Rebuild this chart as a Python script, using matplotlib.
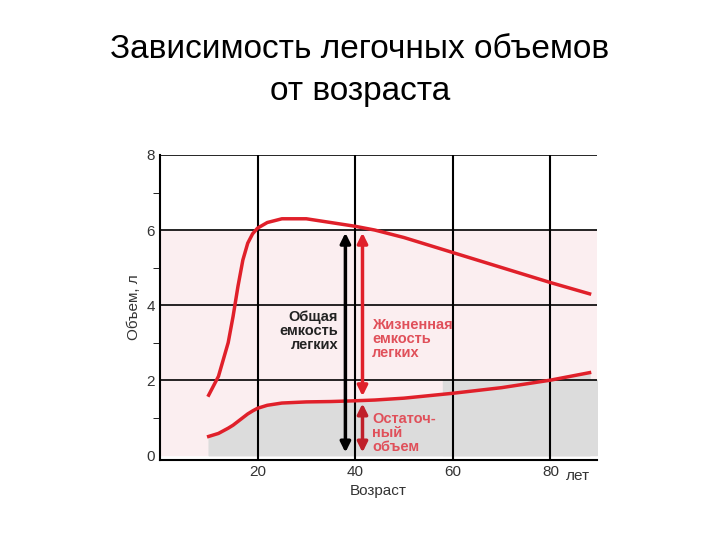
import matplotlib
matplotlib.use("Agg")
import matplotlib.pyplot as plt
import numpy as np

age = [10, 12, 14, 15, 16, 17, 18, 19, 20, 22, 25, 30, 35, 40, 44, 50, 60, 70, 80, 88]
total = [1.6, 2.1, 3.0, 3.7, 4.5, 5.2, 5.65, 5.9, 6.05, 6.2, 6.3, 6.3, 6.2, 6.1, 6.0, 5.8, 5.4, 5.0, 4.6, 4.3]
resid = [0.5, 0.58, 0.72, 0.8, 0.9, 1.0, 1.1, 1.18, 1.25, 1.33, 1.39, 1.42, 1.43, 1.45, 1.47, 1.52, 1.65, 1.8, 2.0, 2.2]
xt = [20, 40, 60, 80]
yt = [0, 2, 4, 6, 8]

plt.rcParams['font.family'] = ['Liberation Sans', 'DejaVu Sans']
fig = plt.figure(figsize=(7.2, 5.4), dpi=100)
fig.text(0.5, 0.87, "Зависимость легочных объемов\nот возраста", ha='center', va='center',
         fontsize=24, linespacing=1.45)
ax = fig.add_axes([0.222, 0.148, 0.607, 0.565])
ax.set_xlim(0, 89.5)
ax.set_ylim(-0.13, 8)
ax.axhspan(0, 6, color='#fbeef0', zorder=0)
ax.fill_between(age, 0, resid, color='#dcdcdc', zorder=1)
ax.fill_between([58, 89.5], 0, 2, color='#dcdcdc', zorder=0.9)
for x in xt:
    ax.axvline(x, color='black', lw=1.5, zorder=2)
for y in [2, 4, 6, 8]:
    ax.axhline(y, color='black', lw=1.2, zorder=2)
ax.plot(age, total, color='#e0202a', lw=2.5, zorder=4)
ax.plot(age, resid, color='#e0202a', lw=2.5, zorder=4)
for s in ['top', 'right']:
    ax.spines[s].set_visible(False)
ax.spines['left'].set_linewidth(1.5)
ax.spines['bottom'].set_linewidth(1.5)
ax.set_xticks(xt)
ax.set_xticklabels(['20', '40', '60', '80'])
ax.set_yticks(yt)
ax.set_yticks([1, 3, 5, 7], minor=True)
ax.tick_params(labelsize=11, colors='#333333', length=0)
ax.tick_params(axis='y', which='minor', length=5, color='black', direction='out')
ax.text(88, -0.55, 'лет', fontsize=11, color='#333333', ha='right', va='center')
ax.set_xlabel('Возраст', fontsize=11, color='#333333')
ax.set_ylabel('Объем, л', fontsize=11, color='#333333')

def arrow(x, y0, y1, c):
    ax.annotate('', xy=(x, y1), xytext=(x, y0),
                arrowprops=dict(arrowstyle='<|-|>', color=c, lw=2.5, mutation_scale=15), zorder=5)
arrow(38, 0, 6.0, 'black')
arrow(41.5, 1.5, 6.0, '#e0202a')
arrow(41.5, 0, 1.45, '#c0202a')
ax.text(36.5, 3.3, 'Общая\nемкость\nлегких', ha='right', va='center', fontsize=10.5,
        fontweight='bold', color='#222222', linespacing=1.0, zorder=6)
ax.text(43.5, 3.1, 'Жизненная\nемкость\nлегких', ha='left', va='center', fontsize=10.5,
        fontweight='bold', color='#e0505a', linespacing=1.0, zorder=6)
ax.text(43.5, 0.6, 'Остаточ-\nный\nобъем', ha='left', va='center', fontsize=10.5,
        fontweight='bold', color='#e0505a', linespacing=1.0, zorder=6)
fig.savefig('out.png', dpi=100)
